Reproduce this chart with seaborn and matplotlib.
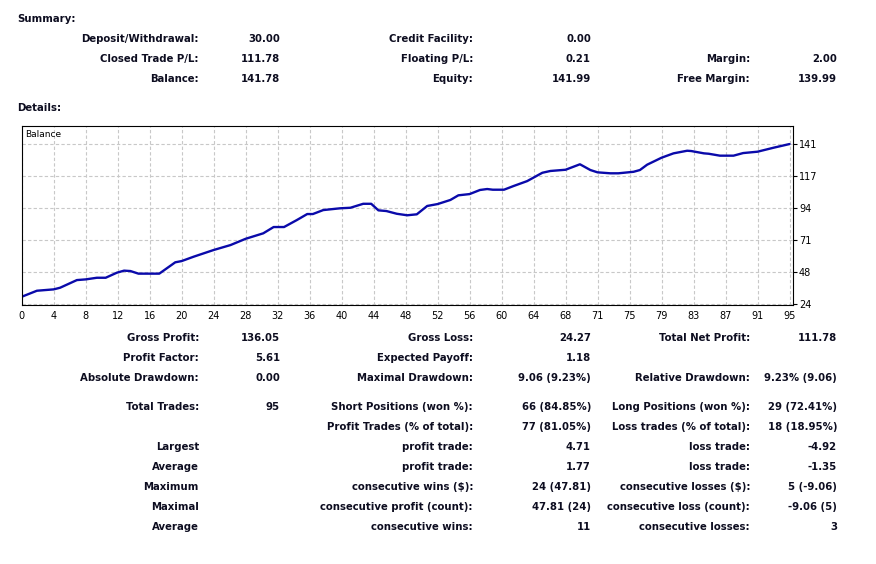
import numpy as np
import pandas as pd
import seaborn as sns
import matplotlib
matplotlib.use('Agg')
import matplotlib.pyplot as plt

# balance curve (trade position, balance)
trade_pos = [0, 1.9, 4, 4.8, 6.9, 8, 9.4, 10.5, 11.9, 12.8, 13.6, 14.6, 16, 17.2, 19.2, 20,
             21.5, 24, 26.1, 28, 30.2, 31.5, 32.8, 34.4, 35.7, 36.4, 37.7, 39.8, 41.1, 42.7,
             43.7, 44.6, 45.6, 46.9, 48.2, 49.4, 50.7, 52, 53.6, 54.6, 56, 57.3, 58.2, 58.9,
             60.3, 61.5, 63.2, 65.1, 66.1, 68, 69.8, 71.1, 72, 73.6, 74.6, 76.5, 77.3, 78.2,
             80, 81.5, 83.2, 83.7, 85.3, 85.9, 87.3, 89, 90.2, 92, 94, 96]
balance = [29.3, 33.7, 34.7, 35.9, 41.5, 42.0, 43.2, 43.2, 46.9, 48.4, 48.1, 46.2, 46.2, 46.2,
           54.5, 55.4, 58.6, 63.5, 67.1, 71.7, 75.7, 80.3, 80.3, 85.4, 89.8, 89.8, 92.7, 94.0,
           94.4, 97.3, 97.3, 92.5, 92.0, 90.0, 88.9, 89.6, 95.7, 97.1, 100.1, 103.5, 104.4,
           107.4, 108.1, 107.6, 107.6, 110.3, 113.9, 120.0, 121.3, 122.2, 126.2, 122.0, 120.3,
           119.6, 119.6, 120.7, 122.0, 125.9, 131.0, 134.2, 136.1, 135.9, 134.2, 133.9, 132.5,
           132.5, 134.4, 135.4, 138.3, 141.0]

x_tick_labels = ['0', '4', '8', '12', '16', '20', '24', '28', '32', '36', '40', '44', '48',
                 '52', '56', '60', '64', '68', '71', '75', '79', '83', '87', '91', '95']
y_tick_labels = ['24', '48', '71', '94', '117', '141']

summary_rows = [
    [('Deposit/Withdrawal:', '30.00'), ('Credit Facility:', '0.00'), None],
    [('Closed Trade P/L:', '111.78'), ('Floating P/L:', '0.21'), ('Margin:', '2.00')],
    [('Balance:', '141.78'), ('Equity:', '141.99'), ('Free Margin:', '139.99')],
]

details_rows = [
    [('Gross Profit:', '136.05'), ('Gross Loss:', '24.27'), ('Total Net Profit:', '111.78')],
    [('Profit Factor:', '5.61'), ('Expected Payoff:', '1.18'), None],
    [('Absolute Drawdown:', '0.00'), ('Maximal Drawdown:', '9.06 (9.23%)'), ('Relative Drawdown:', '9.23% (9.06)')],
    [('Total Trades:', '95'), ('Short Positions (won %):', '66 (84.85%)'), ('Long Positions (won %):', '29 (72.41%)')],
    [None, ('Profit Trades (% of total):', '77 (81.05%)'), ('Loss trades (% of total):', '18 (18.95%)')],
    [('Largest', ''), ('profit trade:', '4.71'), ('loss trade:', '-4.92')],
    [('Average', ''), ('profit trade:', '1.77'), ('loss trade:', '-1.35')],
    [('Maximum', ''), ('consecutive wins ($):', '24 (47.81)'), ('consecutive losses ($):', '5 (-9.06)')],
    [('Maximal', ''), ('consecutive profit (count):', '47.81 (24)'), ('consecutive loss (count):', '-9.06 (5)')],
    [('Average', ''), ('consecutive wins:', '11'), ('consecutive losses:', '3')],
]

sns.set_style('white')
plt.rcParams['font.family'] = ['DejaVu Sans']

W, H = 876, 564
fig = plt.figure(figsize=(W / 100, H / 100), dpi=100)
TXT = '#0d0d20'
LINE = '#0a0aaa'
FS = 7.3

def px(x, y):
    return x / W, 1 - y / H

# columns: (label right edge, value right edge)
cols = [(199, 280), (473, 591), (750, 837)]

def put_row(row, y):
    for (lx, vx), item in zip(cols, row):
        if item is None:
            continue
        lab, val = item
        fig.text(*px(lx, y), lab, ha='right', va='center', fontsize=FS,
                 fontweight='bold', color=TXT)
        if val:
            fig.text(*px(vx, y), val, ha='right', va='center', fontsize=FS,
                     fontweight='bold', color=TXT)

fig.text(*px(17, 19), 'Summary:', ha='left', va='center', fontsize=FS, fontweight='bold', color=TXT)
for row, y in zip(summary_rows, [39, 59, 79]):
    put_row(row, y)
fig.text(*px(17, 108), 'Details:', ha='left', va='center', fontsize=FS, fontweight='bold', color=TXT)
for row, y in zip(details_rows, [338, 358, 378, 407, 427, 447, 467, 487, 507, 527]):
    put_row(row, y)

# balance chart
left, right, top, bottom = 21.7, 792.7, 126, 305
ax = fig.add_axes([left / W, 1 - bottom / H, (right - left) / W, (bottom - top) / H])
df = pd.DataFrame({'trade': trade_pos, 'balance': balance})
sns.lineplot(data=df, x='trade', y='balance', ax=ax, color=LINE, linewidth=1.7)

y_ticks = np.linspace(24, 141, 6)
x_ticks = np.arange(0, 97, 4)
ax.set_xlim(0, 96.4)
ax.set_ylim(23.27, 154.2)
ax.set_xticks(x_ticks)
ax.set_xticklabels(x_tick_labels)
ax.set_yticks(y_ticks)
ax.set_yticklabels(y_tick_labels)
ax.yaxis.tick_right()
ax.tick_params(axis='both', labelsize=7, colors='black', length=3, width=0.8, pad=1.5)
ax.tick_params(axis='both', direction='out')
ax.grid(True, color='#c8c8c8', linestyle=(0, (3, 2)), linewidth=0.8)
ax.set_axisbelow(True)
for s in ax.spines.values():
    s.set_color('black')
    s.set_linewidth(0.8)
ax.set_xlabel('')
ax.set_ylabel('')
ax.text(0.005, 0.955, 'Balance', transform=ax.transAxes, fontsize=6.5, ha='left', va='center',
        color='black')

fig.savefig('out.png', dpi=100, facecolor='white')
